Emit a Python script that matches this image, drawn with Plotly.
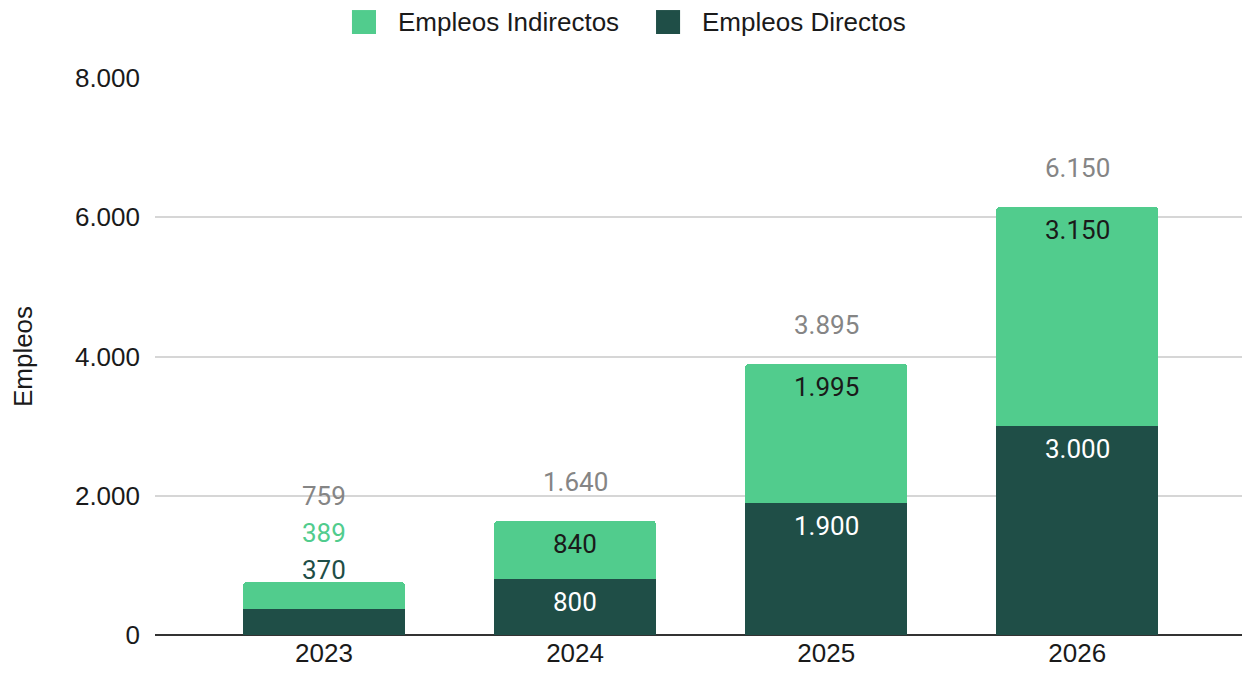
import plotly.graph_objects as go

# ── Data ──────────────────────────────────────────────────────────────────────
years = ["2023", "2024", "2025", "2026"]
directos = [370, 800, 1900, 3000]
indirectos = [389, 840, 1995, 3150]
totales = [759, 1640, 3895, 6150]
series_names = ["Empleos Indirectos", "Empleos Directos"]

_DARK = "#1f4e47"
_LIGHT = "#51cc8d"
_GRAY = "#858585"
_TEXT = "#1a1a1a"
_AXIS_FONT = 'Arial, "Liberation Sans", sans-serif'
_LABEL_FONT = "Roboto, Arial, sans-serif"
_FS = 26

fig = go.Figure()
fig.add_trace(go.Bar(
    x=years, y=directos, name=series_names[1],
    marker=dict(color=_DARK, line=dict(width=0)),
))
fig.add_trace(go.Bar(
    x=years, y=indirectos, name=series_names[0],
    marker=dict(color=_LIGHT, line=dict(width=0)),
))


def fmt(v):
    return f"{v:,}".replace(",", ".")


def label(idx, y, txt, col, shift, anchor):
    return dict(
        x=idx, y=y, xref="x", yref="y", text=txt, showarrow=False,
        yanchor=anchor, yshift=shift,
        font=dict(family=_LABEL_FONT, size=_FS, color=col),
    )


# category index for x (numeric-looking names get misread as positions)
annotations = []
for idx, (d, i, t) in enumerate(zip(directos, indirectos, totales)):
    if d + i < 1000:
        # bar too short: stack the labels above it
        annotations += [
            label(idx, d + i, fmt(d), _DARK, -5, "bottom"),
            label(idx, d + i, fmt(i), _LIGHT, 32, "bottom"),
            label(idx, d + i, fmt(t), _GRAY, 69, "bottom"),
        ]
    else:
        annotations += [
            label(idx, d, fmt(d), "white", -6, "top"),
            label(idx, d + i, fmt(i), _TEXT, -6, "top"),
            label(idx, d + i, fmt(t), _GRAY, 22, "bottom"),
        ]

# hand-drawn legend with big square swatches (plotly caps legend symbols)
shapes = []
for name, col, x0, xt in zip(series_names, [_LIGHT, _DARK], [0.1802, 0.4584], [0.2205, 0.4986]):
    shapes.append(dict(
        type="rect", xref="paper", yref="paper",
        x0=x0, x1=x0 + 0.022, y0=1.079, y1=1.122,
        fillcolor=col, line=dict(width=0),
    ))
    annotations.append(dict(
        x=xt, y=1.1005, xref="paper", yref="paper", text=name,
        showarrow=False, xanchor="left", yanchor="middle",
        font=dict(family=_AXIS_FONT, size=_FS, color=_TEXT),
    ))

fig.update_layout(
    width=1250, height=679,
    barmode="stack",
    bargap=0.355,
    barcornerradius=4,
    separators=",.",
    showlegend=False,
    paper_bgcolor="white", plot_bgcolor="white",
    font=dict(family=_AXIS_FONT, size=_FS, color=_TEXT),
    margin=dict(l=147, r=10, t=70, b=52),
    xaxis=dict(
        type="category", range=[-0.673, 3.68], showgrid=False, ticks="",
        tickfont=dict(family=_AXIS_FONT, size=_FS, color=_TEXT),
        showline=False,
    ),
    yaxis=dict(
        range=[0, 8000], dtick=2000, tickformat=",d",
        gridcolor="#d6d6d6", gridwidth=1.5,
        zeroline=True, zerolinecolor="#333333", zerolinewidth=1.5,
        ticks="", ticklabelstandoff=14,
        title=dict(text="Empleos", standoff=36,
                   font=dict(family=_AXIS_FONT, size=_FS, color=_TEXT)),
        tickfont=dict(family=_AXIS_FONT, size=_FS, color=_TEXT),
    ),
    shapes=shapes,
    annotations=annotations,
)

fig.write_html("out.html")
